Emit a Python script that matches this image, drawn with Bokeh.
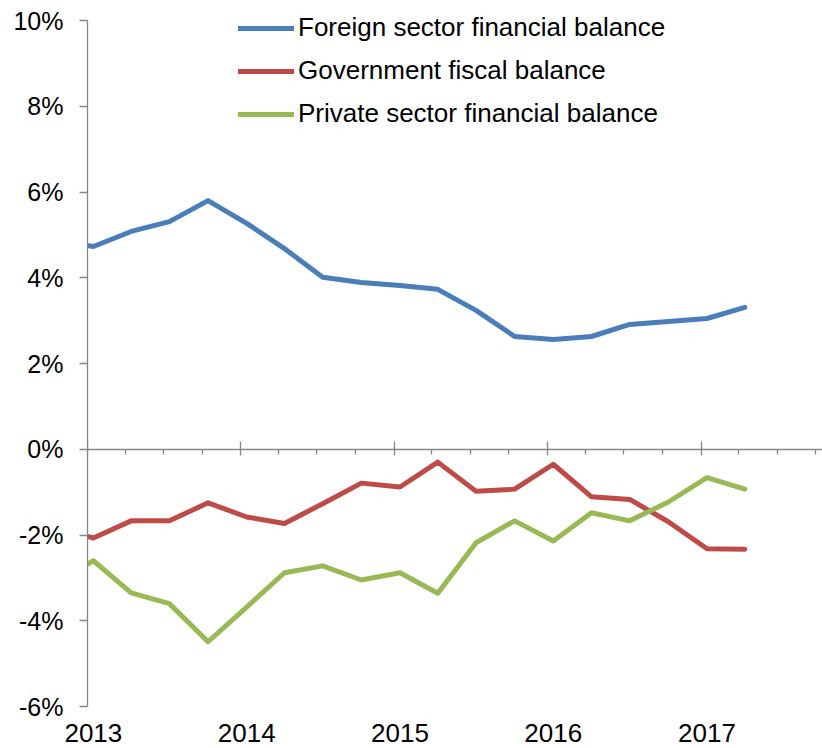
import pandas as pd
from bokeh.plotting import figure
from bokeh.models import (Range1d, FixedTicker, DatetimeAxis, DatetimeTickFormatter,
                          PrintfTickFormatter, Legend, LegendItem, ColumnDataSource)
from bokeh.embed import file_html
from bokeh.resources import INLINE

# ---- data (percent of GDP, quarterly) ----
quarters = ["2012Q4", "2013Q1", "2013Q2", "2013Q3", "2013Q4",
            "2014Q1", "2014Q2", "2014Q3", "2014Q4",
            "2015Q1", "2015Q2", "2015Q3", "2015Q4",
            "2016Q1", "2016Q2", "2016Q3", "2016Q4",
            "2017Q1", "2017Q2"]
foreign = [4.87, 4.73, 5.08, 5.31, 5.80, 5.27, 4.68, 4.01, 3.89, 3.82,
           3.73, 3.24, 2.63, 2.56, 2.63, 2.91, 2.98, 3.05, 3.31]
government = [-1.82, -2.07, -1.67, -1.67, -1.25, -1.58, -1.73, -1.27, -0.79, -0.88,
              -0.30, -0.98, -0.93, -0.35, -1.11, -1.17, -1.69, -2.32, -2.33]
private = [-3.10, -2.60, -3.35, -3.60, -4.49, -3.68, -2.88, -2.72, -3.05, -2.88,
           -3.36, -2.18, -1.67, -2.14, -1.48, -1.67, -1.23, -0.66, -0.93]
series_names = ["Foreign sector financial balance",
                "Government fiscal balance",
                "Private sector financial balance"]
series_colors = ["#4A7EBB", "#BE4B48", "#98B954"]
year_ticks = [2013, 2014, 2015, 2016, 2017]
y_ticks = [-6, -4, -2, 0, 2, 4, 6, 8, 10]

FONT = "Liberation Sans"
AXIS_COLOR = "#868686"

dates = pd.PeriodIndex(quarters, freq="Q").start_time + pd.Timedelta(days=14)
src = ColumnDataSource(dict(x=dates, foreign=foreign, government=government, private=private))

def ms(ts):
    return pd.Timestamp(ts).timestamp() * 1000.0

major = [ms(f"{y}-01-01") for y in year_ticks]
label_pos = [ms(f"{y}-01-15") for y in year_ticks]
minor = [ms(f"{y}-{m:02d}-01") for y in year_ticks for m in (4, 7, 10)]

p = figure(width=822, height=748, output_backend="svg", toolbar_location=None,
           x_axis_type="datetime",
           x_range=Range1d(start=pd.Timestamp("2013-01-01"), end=pd.Timestamp("2017-10-17")),
           y_range=Range1d(start=-6, end=10.42),
           min_border_left=87, min_border_top=2, min_border_right=0, min_border_bottom=42)
p.outline_line_color = None
p.grid.visible = False
p.background_fill_color = "white"
p.border_fill_color = "white"

# y axis
ya = p.yaxis[0]
ya.ticker = FixedTicker(ticks=y_ticks)
ya.bounds = (-6, 10)
ya.formatter = PrintfTickFormatter(format="%d%%")
ya.axis_line_color = AXIS_COLOR
ya.axis_line_width = 1.3
ya.major_tick_line_color = AXIS_COLOR
ya.major_tick_line_width = 1.3
ya.major_tick_in = 0
ya.major_tick_out = 8
ya.minor_tick_line_color = None
ya.major_label_text_font = FONT
ya.major_label_text_font_size = "25px"
ya.major_label_text_color = "black"
ya.major_label_standoff = 16

# bottom axis: labels only
xa = p.xaxis[0]
fmt = DatetimeTickFormatter(years="%Y", months="%Y", days="%Y", hours="%Y")
xa.ticker = FixedTicker(ticks=label_pos)
xa.formatter = fmt
xa.axis_line_color = None
xa.major_tick_line_color = None
xa.minor_tick_line_color = None
xa.major_label_text_font = FONT
xa.major_label_text_font_size = "26px"
xa.major_label_text_color = "black"
xa.major_label_standoff = 11

# axis line with ticks at y = 0
za = DatetimeAxis(fixed_location=0, ticker=FixedTicker(ticks=major, minor_ticks=minor),
                  formatter=fmt)
za.axis_line_color = AXIS_COLOR
za.axis_line_width = 1.3
za.major_tick_line_color = AXIS_COLOR
za.major_tick_line_width = 1.3
za.major_tick_in = 8
za.major_tick_out = 6
za.minor_tick_line_color = AXIS_COLOR
za.minor_tick_line_width = 1.3
za.minor_tick_in = 0
za.minor_tick_out = 5
za.major_label_text_alpha = 0
za.major_label_text_font_size = "1px"
p.add_layout(za, "below")

renderers = []
for col, color in zip(["foreign", "government", "private"], series_colors):
    r = p.line("x", col, source=src, line_color=color, line_width=5,
               line_join="round", line_cap="round")
    renderers.append(r)

legend = Legend(items=[LegendItem(label=n, renderers=[r]) for n, r in zip(series_names, renderers)],
                location=(151, 577), orientation="vertical",
                label_text_font=FONT, label_text_font_size="26px", label_text_color="black",
                glyph_width=56, glyph_height=28, label_height=28, label_standoff=4,
                spacing=12, padding=0, margin=0,
                border_line_color=None, background_fill_alpha=0)
p.add_layout(legend, "center")

open("out.html", "w").write(file_html(p, INLINE))
